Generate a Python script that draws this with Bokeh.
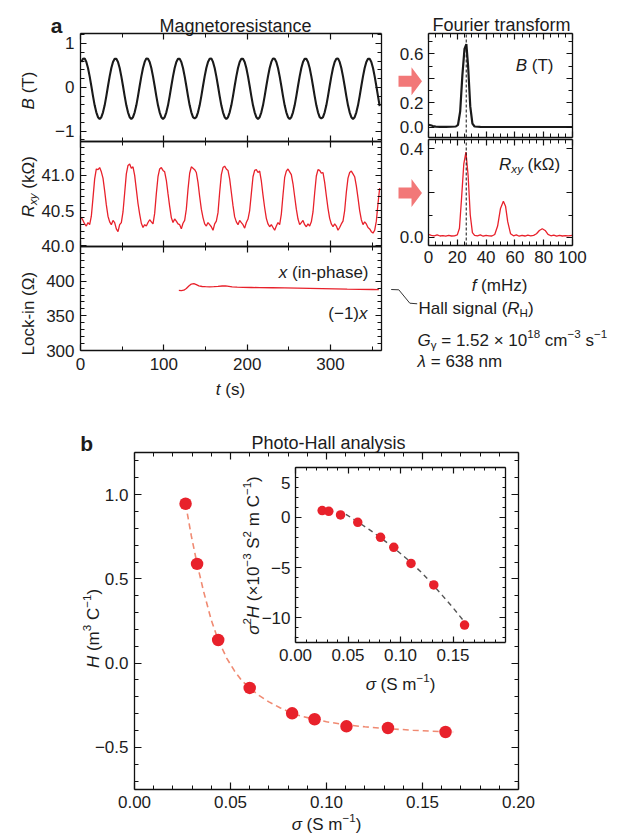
import math
from bokeh.plotting import figure
from bokeh.models import Range1d, LinearAxis, FixedTicker, CustomJSTickFormatter
from bokeh.core.properties import value
from bokeh.embed import file_html
from bokeh.resources import INLINE

# ---------------- data ----------------
# Panel a, magnet field B (T), sampled every 2 s from t = 1 s
t_B_start, t_B_step = 1, 2
B_T = [
    0.58, 0.65, 0.66, 0.58, 0.44, 0.25, 0.03, -0.20, -0.41, -0.57, -0.68, -0.72, -0.68, -0.57, -0.41, -0.20, 0.03, 0.25, 0.44,
    0.58, 0.65, 0.65, 0.58, 0.44, 0.25, 0.03, -0.20, -0.41, -0.57, -0.68, -0.72, -0.68, -0.57, -0.41, -0.20, 0.03, 0.25, 0.44,
    0.58, 0.66, 0.65, 0.58, 0.44, 0.25, 0.03, -0.20, -0.41, -0.57, -0.68, -0.72, -0.68, -0.57, -0.41, -0.20, 0.03, 0.25, 0.44,
    0.58, 0.65, 0.65, 0.58, 0.44, 0.25, 0.03, -0.20, -0.41, -0.57, -0.68, -0.71, -0.68, -0.57, -0.41, -0.20, 0.03, 0.25, 0.44,
    0.58, 0.65, 0.66, 0.58, 0.44, 0.25, 0.03, -0.20, -0.41, -0.57, -0.68, -0.72, -0.68, -0.57, -0.41, -0.20, 0.03, 0.25, 0.44,
    0.58, 0.65, 0.65, 0.58, 0.44, 0.25, 0.03, -0.20, -0.41, -0.57, -0.68, -0.72, -0.68, -0.57, -0.41, -0.20, 0.03, 0.25, 0.44,
    0.58, 0.66, 0.65, 0.58, 0.44, 0.25, 0.03, -0.20, -0.41, -0.57, -0.68, -0.72, -0.68, -0.57, -0.41, -0.20, 0.03, 0.25, 0.44,
    0.58, 0.65, 0.65, 0.58, 0.44, 0.25, 0.03, -0.20, -0.41, -0.57, -0.68, -0.71, -0.68, -0.57, -0.41, -0.20, 0.03, 0.25, 0.44,
    0.58, 0.65, 0.66, 0.58, 0.44, 0.25, 0.03, -0.20, -0.41, -0.57, -0.68, -0.72, -0.68, -0.57, -0.41, -0.20, 0.03, 0.25, 0.44,
    0.58, 0.65, 0.65, 0.58, 0.44, 0.25, 0.03, -0.20, -0.43,
]

# Panel a, Hall resistance R_xy (kOhm), sampled every 2 s from t = 1 s
t_R_start, t_R_step = 1, 2
R_xy = [
    40.40, 40.36,
    40.31, 40.28, 40.33, 40.30, 40.42, 40.68, 40.95, 41.09, 41.08, 41.11, 41.05, 40.96, 40.78, 40.58, 40.42, 40.34, 40.30, 40.36, 40.33,
    40.24, 40.20, 40.30, 40.33, 40.48, 40.75, 41.02, 41.14, 41.16, 41.10, 41.12, 41.00, 40.80, 40.60, 40.45, 40.32, 40.26, 40.30, 40.28,
    40.33, 40.37, 40.34, 40.31, 40.46, 40.74, 40.98, 41.09, 41.11, 41.07, 41.05, 40.93, 40.74, 40.56, 40.40, 40.33, 40.38, 40.35, 40.31,
    40.30, 40.24, 40.32, 40.36, 40.52, 40.80, 41.03, 41.12, 41.10, 41.08, 41.04, 40.90, 40.70, 40.52, 40.40, 40.31, 40.28, 40.33, 40.30,
    40.27, 40.22, 40.31, 40.35, 40.47, 40.76, 41.01, 41.11, 41.13, 41.09, 41.07, 40.95, 40.76, 40.57, 40.41, 40.34, 40.30, 40.36, 40.33,
    40.30, 40.25, 40.33, 40.38, 40.50, 40.74, 40.98, 41.07, 41.08, 41.04, 41.06, 40.92, 40.72, 40.54, 40.39, 40.31, 40.27, 40.30, 40.26,
    40.22, 40.28, 40.33, 40.30, 40.45, 40.72, 40.97, 41.06, 41.09, 41.05, 41.01, 40.88, 40.70, 40.52, 40.38, 40.30, 40.33, 40.36, 40.30,
    40.27, 40.31, 40.28, 40.34, 40.48, 40.75, 40.99, 41.08, 41.07, 41.03, 41.04, 40.90, 40.71, 40.53, 40.39, 40.31, 40.27, 40.31, 40.28,
    40.22, 40.26, 40.31, 40.35, 40.50, 40.76, 40.96, 41.04, 41.06, 41.02, 40.98, 40.85, 40.68, 40.50, 40.37, 40.30, 40.34, 40.31, 40.26,
    40.24, 40.20, 40.18, 40.22, 40.35, 40.60, 40.82,
]

# Panel a, lock-in in-phase signal (Ohm)
lock_t = [118, 121, 124, 127, 130, 133, 136, 139, 142, 146, 150, 155, 160, 165, 170, 174, 178, 182, 188, 195,
          205, 215, 230, 245, 260, 275, 290, 305, 320, 335, 350, 358]
lock_x = [386.8, 386.5, 387.0, 389.5, 393.0, 395.8, 396.5, 395.0, 393.2, 392.3, 392.0, 391.8, 392.0, 392.4, 393.0, 393.3, 392.6, 391.8, 391.3, 391.0,
          390.9, 390.7, 390.5, 390.2, 389.9, 389.6, 389.3, 389.0, 388.6, 388.3, 388.0, 387.8]

# Fourier transforms
f_B = [0, 1.5, 3, 5, 8, 12, 16, 19, 20.5, 22, 23.5, 25, 26.3, 27.5, 29, 30.5, 32, 36, 42, 50, 60, 70, 80, 90, 100]
FT_B = [0.02, 0.016, 0.01, 0.005, 0.003, 0.003, 0.004, 0.006, 0.02, 0.13, 0.42, 0.64, 0.68, 0.5, 0.17, 0.03, 0.006, 0.003,
        0.002, 0.002, 0.002, 0.002, 0.002, 0.002, 0.002]
f_R = [0, 2, 4, 6, 8, 10, 12, 14, 16, 18, 20, 21.5, 23, 24.5, 26, 27.5, 29, 30.5, 32, 34, 36, 38, 40, 42, 44, 46, 48, 50, 52,
       53.5, 55, 57, 59, 61, 63, 65, 67, 69, 71, 73, 75, 77, 79, 81, 83, 85, 87, 89, 91, 93, 95, 97, 100]
FT_R = [0.012, 0.008, 0.006, 0.010, 0.005, 0.007, 0.004, 0.008, 0.005, 0.006, 0.010, 0.040, 0.180, 0.330, 0.385, 0.280, 0.100,
        0.020, 0.008, 0.006, 0.010, 0.004, 0.008, 0.006, 0.005, 0.012, 0.050, 0.130, 0.162, 0.140, 0.070, 0.015, 0.006, 0.010,
        0.004, 0.008, 0.005, 0.009, 0.006, 0.008, 0.015, 0.030, 0.038, 0.030, 0.012, 0.006, 0.009, 0.004, 0.008, 0.005, 0.007,
        0.006, 0.008]
f_drive = 26.2

# Panel b, photo-Hall analysis
sigma = [0.0266, 0.0326, 0.0436, 0.060, 0.0821, 0.0938, 0.1104, 0.132, 0.162]
H_val = [0.946, 0.589, 0.137, -0.147, -0.298, -0.333, -0.375, -0.385, -0.409]
fit_sigma = [0.0266, 0.0296, 0.0326, 0.036, 0.040, 0.0436, 0.048, 0.052, 0.056, 0.060, 0.065, 0.070, 0.076, 0.0821,
             0.088, 0.0938, 0.100, 0.110, 0.120, 0.132, 0.145, 0.155, 0.166]
fit_H = [0.946, 0.755, 0.589, 0.425, 0.255, 0.137, 0.030, -0.045, -0.105, -0.147, -0.193, -0.230, -0.266, -0.298,
         -0.318, -0.333, -0.348, -0.366, -0.378, -0.389, -0.398, -0.404, -0.409]
in_sigma = [0.0254, 0.0317, 0.0429, 0.0593, 0.081, 0.0936, 0.110, 0.1317, 0.161]
in_s2H = [0.67, 0.60, 0.24, -0.50, -1.99, -2.99, -4.59, -6.74, -10.73]
ifit_sigma = [0.048, 0.06, 0.07, 0.08, 0.09, 0.10, 0.11, 0.12, 0.13, 0.14, 0.15, 0.16]
ifit_s2H = [0.3, -0.5, -1.2, -1.95, -2.75, -3.6, -4.5, -5.5, -6.6, -7.8, -9.0, -10.3]

# ticks
t_ticks = [0, 100, 200, 300]
t_minor = [50, 150, 250, 350]
B_ticks = [-1, 0, 1]
B_minor = [-1.2, -0.8, -0.6, -0.4, -0.2, 0.2, 0.4, 0.6, 0.8, 1.2]
R_ticks = [40.0, 40.5, 41.0]
R_minor = [40.1, 40.2, 40.3, 40.4, 40.6, 40.7, 40.8, 40.9, 41.1, 41.2, 41.3, 41.4]
L_ticks = [300, 350, 400]
L_minor = [310, 320, 330, 340, 360, 370, 380, 390, 410, 420, 430, 440]
f_ticks = [0, 20, 40, 60, 80, 100]
f_minor = [5, 10, 15, 25, 30, 35, 45, 50, 55, 65, 70, 75, 85, 90, 95]
BF_ticks = [0.0, 0.2, 0.4, 0.6]
BF_minor = [0.1, 0.3, 0.5, 0.7]
RF_ticks = [0.0, 0.2, 0.4]
RF_minor = [0.1, 0.3]
mx_ticks = [0.0, 0.05, 0.10, 0.15, 0.20]
mx_minor = [round(0.01 * i, 2) for i in range(1, 20) if i % 5]
my_ticks = [-0.5, 0.0, 0.5, 1.0]
my_minor = [-0.7, -0.6, -0.4, -0.3, -0.2, -0.1, 0.1, 0.2, 0.3, 0.4, 0.6, 0.7, 0.8, 0.9, 1.1, 1.2]
ix_ticks = [0.0, 0.05, 0.10, 0.15]
ix_minor = [round(0.01 * i, 2) for i in range(1, 20) if i % 5]
iy_ticks = [-10, -5, 0, 5]
iy_minor = [-12, -11, -9, -8, -7, -6, -4, -3, -2, -1, 1, 2, 3, 4]

# ---------------- layout (picture pixels) ----------------
X0, X1, Y0, Y1 = 0, 630, 0, 840
FONT = "Liberation Sans"
TXT = "#1c1c1c"
FS = 17
FT_TITLE = 18
RED = "#e8212b"
PINK = "#f27878"

p = figure(width=X1 - X0, height=Y1 - Y0, x_range=Range1d(X0, X1), y_range=Range1d(Y1, Y0),
           output_backend="svg", toolbar_location=None, tools="", min_border=0,
           x_axis_location=None, y_axis_location=None)
p.grid.visible = False
p.outline_line_color = None
p.background_fill_color = "white"
p.border_fill_color = "white"


def xr_for(px0, px1, d0, d1):
    k = (d1 - d0) / (px1 - px0)
    return Range1d(d0 - (px0 - X0) * k, d1 + (X1 - px1) * k)


def yr_for(py_top, py_bot, d_bot, d_top):
    k = (d_top - d_bot) / (py_bot - py_top)
    return Range1d(d_bot - (Y1 - py_bot) * k, d_top + (py_top - Y0) * k)


# panel boxes
AX = (80, 381, 0.0, 361.2)
BY = (33, 141, -1.235, 1.228)
RY = (141, 246, 39.99, 41.48)
LY = (246, 350, 300.0, 450.0)
FX = (428, 572, 0.0, 100.0)
BFY = (33, 137, -0.084, 0.766)
RFY = (139, 245, -0.038, 0.442)
MX = (134, 518, 0.0, 0.2)
MY = (452, 789, -0.75, 1.25)
IX = (295, 505, 0.0, 0.2)
IY = (466.6, 642.3, -12.5, 5.0)

p.extra_x_ranges = {"ax": xr_for(*AX), "fx": xr_for(*FX), "mx": xr_for(*MX), "ix": xr_for(*IX)}
p.extra_y_ranges = {"by": yr_for(*BY), "ry": yr_for(*RY), "ly": yr_for(*LY), "bfy": yr_for(*BFY),
                    "rfy": yr_for(*RFY), "my": yr_for(*MY), "iy": yr_for(*IY)}

BLANK = "return '';"
F_INT = "return (tick < 0 ? '\u2212' : '') + Math.abs(tick).toFixed(0);"
F_1 = "return (tick < -1e-9 ? '\u2212' : '') + Math.abs(tick).toFixed(1);"
F_2 = "return Math.abs(tick).toFixed(2);"
F_BF = "return Math.abs(tick - 0.4) < 1e-6 ? '' : Math.abs(tick).toFixed(1);"
F_RF = "return Math.abs(tick - 0.2) < 1e-6 ? '' : Math.abs(tick).toFixed(1);"
F_IY = "return tick > 4 ? '' : (tick < 0 ? '\u2212' : '') + Math.abs(tick).toFixed(0);"


def panel(xr, yr, xbox, ybox, xt, xm, yt, ym, xfmt=None, yfmt=None, maj=6, mnr=4, xso=7, yso=6):
    xdom = (xbox[2], xbox[3])
    ydom = (ybox[2], ybox[3])
    specs = [("below", xdom, ydom[0], xt, xm, xfmt, xso),
             ("above", xdom, ydom[1], xt, xm, None, 0),
             ("left", ydom, xdom[0], yt, ym, yfmt, yso),
             ("right", ydom, xdom[1], yt, ym, None, 0)]
    for side, bounds, loc, tk, mtk, fmt, so in specs:
        ax = LinearAxis(x_range_name=xr, y_range_name=yr, fixed_location=loc, bounds=bounds,
                        ticker=FixedTicker(ticks=tk, minor_ticks=mtk))
        ax.axis_line_color = "#111111"
        ax.axis_line_width = 1.3
        ax.major_tick_line_color = "#111111"
        ax.major_tick_line_width = 1.2
        ax.minor_tick_line_color = "#111111"
        ax.minor_tick_line_width = 1.0
        ax.major_tick_in = maj
        ax.major_tick_out = 0
        ax.minor_tick_in = mnr
        ax.minor_tick_out = 0
        ax.major_label_text_font = FONT
        ax.major_label_text_font_size = f"{FS}px"
        ax.major_label_text_color = TXT
        ax.major_label_standoff = so
        ax.formatter = CustomJSTickFormatter(code=fmt if fmt else BLANK)
        p.add_layout(ax, side)


# ---------------- text helper ----------------
W = {' ': 278, '(': 333, ')': 333, '.': 278, ',': 278, '-': 333, '\u2212': 584, '=': 584, '\u00d7': 584,
     'A': 667, 'B': 667, 'C': 722, 'D': 722, 'E': 667, 'F': 611, 'G': 778, 'H': 722, 'I': 278, 'L': 556,
     'M': 833, 'P': 667, 'R': 722, 'S': 667, 'T': 611,
     'a': 556, 'b': 556, 'c': 500, 'd': 556, 'e': 556, 'f': 278, 'g': 556, 'h': 556, 'i': 222, 'k': 500,
     'l': 222, 'm': 833, 'n': 556, 'o': 556, 'p': 556, 'r': 333, 's': 500, 't': 278, 'u': 556, 'x': 500,
     'y': 500, 'z': 500, '\u03a9': 768, '\u03c3': 600, '\u03bb': 500, '\u03b3': 500}


def tw(s, fs):
    return sum(W.get(c, 556) for c in s) * fs / 1000.0


def runs_text(x, y, runs, size=FS, align="left", angle=0.0, color=TXT):
    items = []
    for r in runs:
        s, style = r[0], r[1]
        kind = r[2] if len(r) > 2 else None
        if kind == "sup":
            fs, sh = size * 0.68, size * 0.40
        elif kind == "sub":
            fs, sh = size * 0.68, -size * 0.22
        else:
            fs, sh = size, 0.0
        items.append((s, style, fs, sh, tw(s, fs)))
    total = sum(i[4] for i in items)
    pos = {"left": 0.0, "center": -total / 2.0, "right": -total}[align]
    for s, style, fs, sh, w in items:
        core = s.strip(" ")
        lead = len(s) - len(s.lstrip(" "))
        start = pos + tw(" " * lead, fs)
        if core:
            if angle == 0:
                px, py = x + start, y - sh
            else:
                px, py = x - sh, y - start
            p.text(x=[px], y=[py], text=[core], angle=angle, text_font=value(FONT),
                   text_font_size=f"{fs:.1f}px", text_font_style=style, text_color=color,
                   text_align="left", text_baseline="alphabetic")
        pos += w


UP = math.pi / 2

# ---------------- panel a : time traces ----------------
t_B = [t_B_start + t_B_step * i for i in range(len(B_T))]
t_R = [t_R_start + t_R_step * i for i in range(len(R_xy))]
p.line(t_B, B_T, x_range_name="ax", y_range_name="by", line_color="#1a1a1a", line_width=2.1)
p.line(t_R, R_xy, x_range_name="ax", y_range_name="ry", line_color=RED, line_width=1.3)
p.line(lock_t, lock_x, x_range_name="ax", y_range_name="ly", line_color=RED, line_width=1.3)

panel("ax", "by", AX, BY, t_ticks, t_minor, B_ticks, B_minor, None, F_INT)
panel("ax", "ry", AX, RY, t_ticks, t_minor, R_ticks, R_minor, None, F_1)
panel("ax", "ly", AX, LY, t_ticks, t_minor, L_ticks, L_minor, F_INT, F_INT)

# Fourier transforms
p.line(f_B, FT_B, x_range_name="fx", y_range_name="bfy", line_color="#1a1a1a", line_width=2.2)
p.segment(x0=[f_drive], y0=[BFY[2]], x1=[f_drive], y1=[BFY[3]], x_range_name="fx", y_range_name="bfy",
          line_color="#111111", line_width=1, line_dash="3 2")
p.line(f_R, FT_R, x_range_name="fx", y_range_name="rfy", line_color=RED, line_width=1.3)
p.segment(x0=[f_drive], y0=[RFY[2]], x1=[f_drive], y1=[RFY[3]], x_range_name="fx", y_range_name="rfy",
          line_color="#111111", line_width=1, line_dash="3 2")
panel("fx", "bfy", FX, BFY, f_ticks, f_minor, BF_ticks, BF_minor, None, F_BF, xso=5, yso=5)
panel("fx", "rfy", FX, RFY, f_ticks, f_minor, RF_ticks, RF_minor, F_INT, F_RF, xso=5, yso=5)

# pink arrows between the panels
for cy in (80.7, 192.5):
    p.patch([398, 411, 411, 421.5, 411, 411, 398],
            [cy - 5.5, cy - 5.5, cy - 14, cy, cy + 14, cy + 5.5, cy + 5.5],
            fill_color=PINK, line_color=None)

# Hall-signal connector
p.line([390.7, 398.3, 409.3, 416.7], [289.0, 289.3, 302.7, 303.3], line_color="#333333", line_width=1)

# panel a texts
runs_text(56, 25, [("a", "bold")], size=21, align="center")
runs_text(235, 25, [("Magnetoresistance", "normal")], size=FT_TITLE, align="center")
runs_text(501, 24, [("Fourier transform", "normal")], size=FT_TITLE, align="center")
runs_text(28, 90, [("B", "italic"), (" (T)", "normal")], align="center", angle=UP)
runs_text(28, 186, [("R", "italic"), ("xy", "italic", "sub"), (" (k\u03a9)", "normal")], align="center", angle=UP)
runs_text(28, 313, [("Lock-in (\u03a9)", "normal")], align="center", angle=UP)
runs_text(230, 389, [("t", "italic"), (" (s)", "normal")], align="center")
runs_text(368, 272, [("x", "italic"), (" (in-phase)", "normal")], align="right")
runs_text(367, 313, [("(\u22121)", "normal"), ("x", "italic")], align="right")
runs_text(553, 65, [("B", "italic"), (" (T)", "normal")], align="right")
runs_text(560, 164, [("R", "italic"), ("xy", "italic", "sub"), (" (k\u03a9)", "normal")], align="right")
runs_text(499, 285, [("f", "italic"), (" (mHz)", "normal")], align="center")
runs_text(418, 308, [("Hall signal (", "normal"), ("R", "italic"), ("H", "normal", "sub"), (")", "normal")])
runs_text(417, 340, [("G", "italic"), ("\u03b3", "normal", "sub"), (" = 1.52 \u00d7 10", "normal"), ("18", "normal", "sup"),
                     (" cm", "normal"), ("\u22123", "normal", "sup"), (" s", "normal"), ("\u22121", "normal", "sup")])
runs_text(417, 361, [("\u03bb", "italic"), (" = 638 nm", "normal")])

# ---------------- panel b ----------------
p.line(fit_sigma, fit_H, x_range_name="mx", y_range_name="my", line_color="#f08a72", line_width=1.6, line_dash="6 4")
p.scatter(sigma, H_val, x_range_name="mx", y_range_name="my", size=12.5, fill_color=RED, line_color=None)
panel("mx", "my", MX, MY, mx_ticks, mx_minor, my_ticks, my_minor, F_2, F_1, maj=7, mnr=4, xso=6, yso=6)

p.line(ifit_sigma, ifit_s2H, x_range_name="ix", y_range_name="iy", line_color="#555555", line_width=1.4, line_dash="5 4")
p.scatter(in_sigma, in_s2H, x_range_name="ix", y_range_name="iy", size=9.5, fill_color=RED, line_color=None)
panel("ix", "iy", IX, IY, ix_ticks, ix_minor, iy_ticks, iy_minor, F_2, F_IY, maj=6, mnr=3, xso=6, yso=5)
runs_text(290, 482, [("5", "normal")], align="right")

runs_text(85.5, 443, [("b", "bold")], size=21, align="center")
runs_text(328, 442, [("Photo-Hall analysis", "normal")], size=FT_TITLE, align="center")
runs_text(93, 628, [("H", "italic"), (" (m", "normal"), ("3", "normal", "sup"), (" C", "normal"),
                    ("\u22121", "normal", "sup"), (")", "normal")], align="center", angle=UP)
runs_text(326, 824, [("\u03c3", "italic"), (" (S m", "normal"), ("\u22121", "normal", "sup"), (")", "normal")], align="center")
runs_text(253, 555, [("\u03c3", "italic"), ("2", "normal", "sup"), ("H", "italic"), (" (\u00d710", "normal"),
                     ("\u22123", "normal", "sup"), (" S", "normal"), ("2", "normal", "sup"), (" m C", "normal"),
                     ("\u22121", "normal", "sup"), (")", "normal")], align="center", angle=UP)
runs_text(400, 684, [("\u03c3", "italic"), (" (S m", "normal"), ("\u22121", "normal", "sup"), (")", "normal")], align="center")

open("out.html", "w").write(file_html(p, INLINE))
